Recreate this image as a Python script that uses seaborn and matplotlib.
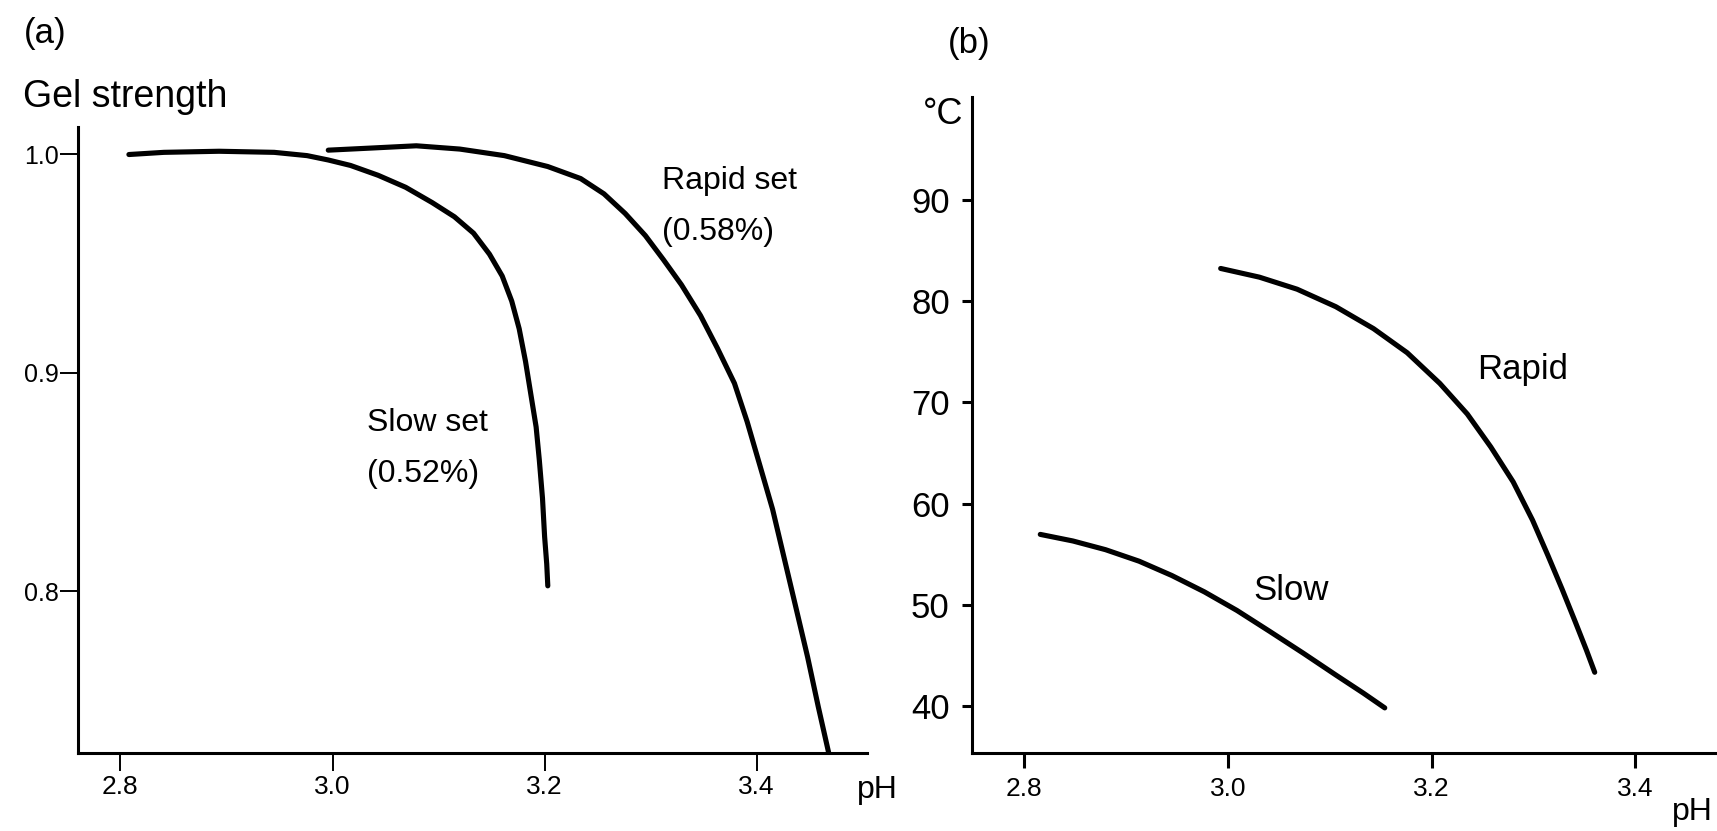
import numpy as np
import pandas as pd
import matplotlib
matplotlib.use("Agg")
import matplotlib.pyplot as plt
import seaborn as sns

# ---------------- data ----------------
# Panel (a): relative gel strength vs pH
slow_a_ph = [2.808, 2.841, 2.893, 2.945, 2.976, 2.996, 3.017, 3.043, 3.069,
             3.094, 3.115, 3.133, 3.148, 3.160, 3.169, 3.176, 3.182, 3.187,
             3.192, 3.195, 3.198, 3.200, 3.202, 3.203]
slow_a_gel = [0.9998, 1.0008, 1.0013, 1.0008, 0.9993, 0.9973, 0.9948, 0.9903,
              0.9848, 0.9778, 0.9713, 0.9638, 0.9542, 0.9442, 0.9327, 0.9201,
              0.9051, 0.8901, 0.8751, 0.8600, 0.8425, 0.8249, 0.8124, 0.8024]
rapid_a_ph = [2.996, 3.038, 3.079, 3.120, 3.162, 3.203, 3.234, 3.256, 3.276,
              3.295, 3.312, 3.329, 3.347, 3.363, 3.379, 3.391, 3.403, 3.415,
              3.426, 3.437, 3.448, 3.458, 3.468]
rapid_a_gel = [1.0018, 1.0028, 1.0038, 1.0023, 0.9993, 0.9943, 0.9888, 0.9818,
               0.9728, 0.9627, 0.9517, 0.9402, 0.9261, 0.9111, 0.8951, 0.8775,
               0.8575, 0.8374, 0.8149, 0.7924, 0.7698, 0.7472, 0.7257]

# Panel (b): setting temperature (°C) vs pH
slow_b_ph = [2.816, 2.848, 2.880, 2.913, 2.945, 2.977, 3.009, 3.041, 3.074,
             3.106, 3.133, 3.154]
slow_b_temp = [56.96, 56.31, 55.45, 54.31, 52.90, 51.28, 49.44, 47.38, 45.22,
               43.06, 41.27, 39.81]
rapid_b_ph = [2.993, 3.031, 3.068, 3.106, 3.143, 3.176, 3.208, 3.235, 3.258,
              3.280, 3.299, 3.314, 3.328, 3.341, 3.352, 3.360]
rapid_b_temp = [83.25, 82.39, 81.20, 79.47, 77.30, 74.92, 71.89, 68.86, 65.61,
                62.15, 58.37, 54.90, 51.55, 48.30, 45.49, 43.33]

a_xticks = [2.8, 3.0, 3.2, 3.4]
a_yticks = [0.8, 0.9, 1.0]
b_xticks = [2.8, 3.0, 3.2, 3.4]
b_yticks = [40, 50, 60, 70, 80, 90]

# ---------------- style ----------------
sns.set_style("ticks")
plt.rcParams['font.family'] = ['Liberation Sans', 'DejaVu Sans']
plt.rcParams['text.color'] = 'black'
plt.rcParams['xtick.color'] = 'black'
plt.rcParams['ytick.color'] = 'black'
plt.rcParams['axes.edgecolor'] = 'black'
plt.rcParams['axes.labelcolor'] = 'black'

W, H = 1717, 831
fig = plt.figure(figsize=(W / 100, H / 100), dpi=100)

LW = 3.7
SPW = 2.2

def px_axes(l, r, b, t):
    return fig.add_axes([l / W, 1 - b / H, (r - l) / W, (b - t) / H])

def px_text(x, y, s, **kw):
    fig.text(x / W, 1 - y / H, s, **kw)

# ---------------- panel (a) ----------------
axa = px_axes(78, 867, 753, 127)
dfa = pd.concat([
    pd.DataFrame({"pH": slow_a_ph, "val": slow_a_gel, "s": "slow"}),
    pd.DataFrame({"pH": rapid_a_ph, "val": rapid_a_gel, "s": "rapid"}),
])
sns.lineplot(data=dfa, x="pH", y="val", units="s", estimator=None, sort=False,
             color="black", lw=LW, ax=axa, legend=False)
for ln in axa.lines:
    ln.set_solid_capstyle("round")
    ln.set_solid_joinstyle("round")
axa.set_xlim(2.760, 3.504)
axa.set_ylim(0.7259, 1.0124)
axa.set_xticks(a_xticks)
axa.set_xticklabels([f"{t:.1f}" for t in a_xticks])
axa.set_yticks(a_yticks)
axa.set_yticklabels([f"{t:.1f}" for t in a_yticks])
axa.tick_params(axis="x", length=13, width=1.4, pad=3, labelsize=19, direction="out")
axa.tick_params(axis="y", length=13, width=1.4, pad=1, labelsize=18, direction="out")
axa.set_xlabel("")
axa.set_ylabel("")
for s in ["top", "right"]:
    axa.spines[s].set_visible(False)
for s in ["left", "bottom"]:
    axa.spines[s].set_linewidth(SPW)

px_text(662, 181, "Rapid set", fontsize=23, ha="left", va="center")
px_text(662, 232, "(0.58%)", fontsize=23, ha="left", va="center")
px_text(367, 423, "Slow set", fontsize=23, ha="left", va="center")
px_text(367, 474, "(0.52%)", fontsize=23, ha="left", va="center")

px_text(24, 33, "(a)", fontsize=25, ha="left", va="center")
px_text(23, 97, "Gel strength", fontsize=27, ha="left", va="center")
px_text(877, 790, "pH", fontsize=23, ha="center", va="center")

# ---------------- panel (b) ----------------
axb = px_axes(972, 1717, 753, 97)
dfb = pd.concat([
    pd.DataFrame({"pH": slow_b_ph, "val": slow_b_temp, "s": "slow"}),
    pd.DataFrame({"pH": rapid_b_ph, "val": rapid_b_temp, "s": "rapid"}),
])
sns.lineplot(data=dfb, x="pH", y="val", units="s", estimator=None, sort=False,
             color="black", lw=LW, ax=axb, legend=False)
for ln in axb.lines:
    ln.set_solid_capstyle("round")
    ln.set_solid_joinstyle("round")
axb.set_xlim(2.749, 3.480)
axb.set_ylim(35.35, 100.2)
axb.set_xticks(b_xticks)
axb.set_xticklabels([f"{t:.1f}" for t in b_xticks])
axb.set_yticks(b_yticks)
axb.set_yticklabels([str(t) for t in b_yticks])
axb.tick_params(axis="x", length=11, width=2.2, pad=6, labelsize=19, direction="out")
axb.tick_params(axis="y", length=7, width=2.2, pad=9, labelsize=25, direction="out")
axb.set_xlabel("")
axb.set_ylabel("")
for s in ["top", "right"]:
    axb.spines[s].set_visible(False)
for s in ["left", "bottom"]:
    axb.spines[s].set_linewidth(SPW)
axb.text(3.245, 73.3, "Rapid", fontsize=25, ha="left", va="center")
axb.text(3.025, 51.4, "Slow", fontsize=25, ha="left", va="center")

px_text(948, 43, "(b)", fontsize=25, ha="left", va="center")
px_text(943, 115, "°C", fontsize=26, ha="center", va="center")
px_text(1692, 812, "pH", fontsize=23, ha="center", va="center")

fig.savefig("out.png", dpi=100, facecolor="white")
